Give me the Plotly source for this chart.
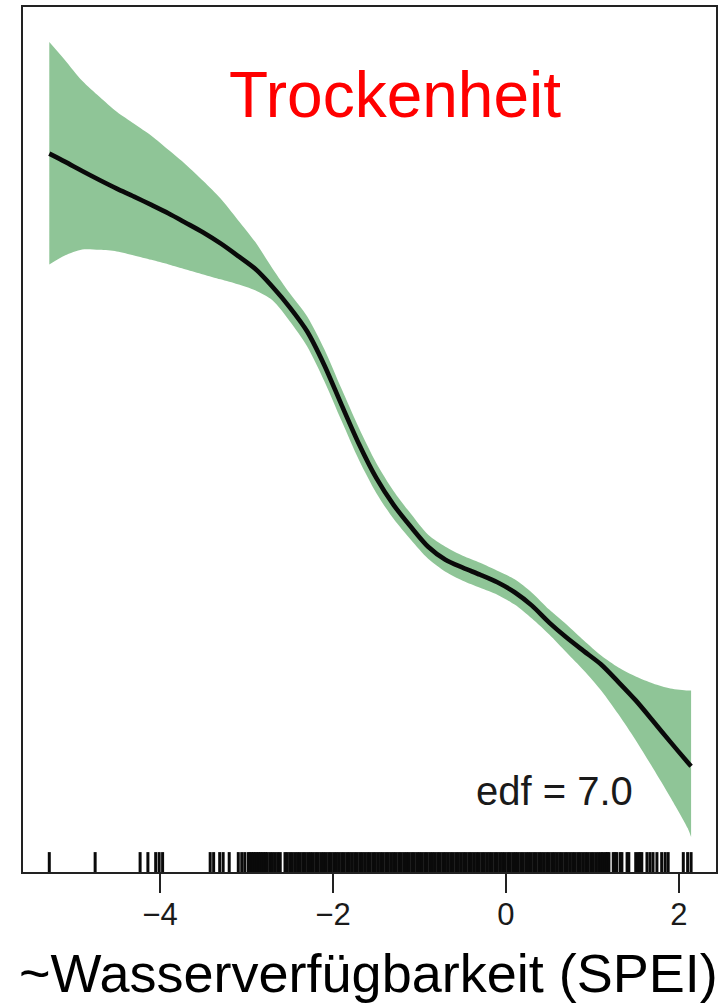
import plotly.graph_objects as go

# SPEI values (x) and smooth estimate with confidence band
spei = [-5.28, -5.1, -4.9, -4.7, -4.5, -4.3, -4.1, -3.9, -3.7, -3.5, -3.3, -3.1, -2.9, -2.7,
        -2.5, -2.3, -2.1, -1.9, -1.7, -1.5, -1.3, -1.1, -0.9, -0.7, -0.5, -0.3, -0.1, 0.1,
        0.3, 0.5, 0.7, 0.9, 1.1, 1.3, 1.5, 1.7, 1.9, 2.1, 2.14]
fit = [2.09, 2.05, 2.003, 1.958, 1.915, 1.875, 1.833, 1.79, 1.743, 1.695, 1.64, 1.578, 1.513,
       1.423, 1.32, 1.2, 1.03, 0.83, 0.635, 0.465, 0.33, 0.22, 0.12, 0.055, 0.015, -0.02,
       -0.058, -0.108, -0.175, -0.26, -0.335, -0.403, -0.47, -0.558, -0.65, -0.753, -0.858,
       -0.96, -0.98]
upper = [2.65, 2.56, 2.455, 2.375, 2.30, 2.24, 2.18, 2.108, 2.035, 1.953, 1.865, 1.758, 1.648,
         1.515, 1.39, 1.275, 1.11, 0.91, 0.715, 0.54, 0.40, 0.285, 0.18, 0.12, 0.075, 0.04,
         0.0, -0.043, -0.11, -0.195, -0.27, -0.35, -0.425, -0.485, -0.53, -0.565, -0.59,
         -0.60, -0.60]
lower = [1.535, 1.58, 1.61, 1.608, 1.60, 1.58, 1.558, 1.535, 1.51, 1.485, 1.46, 1.435, 1.405,
         1.355, 1.25, 1.125, 0.95, 0.75, 0.555, 0.39, 0.26, 0.155, 0.06, -0.005, -0.05, -0.085,
         -0.12, -0.17, -0.24, -0.32, -0.41, -0.50, -0.60, -0.72, -0.85, -0.99, -1.135, -1.29,
         -1.335]

# Rug: observed SPEI values
rug = [-5.28, -4.75, -4.23, -4.14, -4.05, -4.01, -3.97, -3.42, -3.38, -3.31, -3.27, -3.20,
       -3.095, -3.055, -3.02, -2.98, -2.96, -2.94, -2.92, -2.90, -2.88, -2.86, -2.84, -2.82,
       -2.80, -2.78, -2.76, -2.73, -2.70, -2.67, -2.64, -2.61, -2.555, -2.53,
       -2.50, -2.47, -2.44, -2.41, -2.38, -2.35, -2.32, -2.29, -2.26, -2.23, -2.20, -2.17,
       -2.14, -2.11, -2.08, -2.05, -2.02, -1.99, -1.96, -1.93, -1.90, -1.87, -1.84, -1.81,
       -1.78, -1.75, -1.72, -1.69, -1.66, -1.63, -1.60, -1.57, -1.54, -1.51, -1.48, -1.45,
       -1.42, -1.39, -1.36, -1.33, -1.30, -1.27, -1.24, -1.21, -1.18, -1.15, -1.12, -1.09,
       -1.06, -1.03, -1.00, -0.97, -0.94, -0.91, -0.88, -0.85, -0.82, -0.79, -0.76, -0.73,
       -0.70, -0.67, -0.64, -0.61, -0.58, -0.55, -0.52, -0.49, -0.46, -0.43, -0.40, -0.37,
       -0.34, -0.31, -0.28, -0.25, -0.22, -0.19, -0.16, -0.13, -0.10, -0.07, -0.04, -0.01,
       0.02, 0.05, 0.08, 0.11, 0.14, 0.17, 0.20, 0.23, 0.26, 0.29, 0.32, 0.35, 0.38, 0.41,
       0.44, 0.47, 0.50, 0.53, 0.56, 0.59, 0.62, 0.65, 0.68, 0.71, 0.74, 0.77, 0.80, 0.83,
       0.86, 0.89, 0.92, 0.95, 0.98, 1.01, 1.04, 1.07, 1.10, 1.12,
       1.15, 1.17, 1.19, 1.24, 1.26, 1.28, 1.32, 1.34, 1.40, 1.42, 1.50, 1.53, 1.55, 1.57,
       1.63, 1.665, 1.70, 1.745, 1.80, 1.84, 1.875, 2.05, 2.10, 2.14]

tick_vals = [-4, -2, 0, 2]
tick_text = ["\u22124", "\u22122", "0", "2"]

title_text = "Trockenheit"
edf_text = "edf = 7.0"
xlabel_text = "~Wasserverfügbarkeit (SPEI)"

FONT = "Liberation Sans, Arial, sans-serif"
GREEN = "#8fc597"

fig = go.Figure()

# confidence band: upper edge, then lower edge filled up to it
fig.add_trace(go.Scatter(
    x=spei, y=upper, mode="lines",
    line=dict(width=0, color=GREEN, shape="spline", smoothing=0.8),
    hoverinfo="skip", showlegend=False))
fig.add_trace(go.Scatter(
    x=spei, y=lower, mode="lines", fill="tonexty", fillcolor=GREEN,
    line=dict(width=0, color=GREEN, shape="spline", smoothing=0.8),
    hoverinfo="skip", showlegend=False))

# fitted smooth
fig.add_trace(go.Scatter(
    x=spei, y=fit, mode="lines",
    line=dict(color="#0a0a0a", width=4.6, shape="spline", smoothing=0.8),
    showlegend=False))

# rug
shapes = [dict(type="line", xref="x", yref="y domain", x0=v, x1=v, y0=0, y1=0.023,
               line=dict(color="#0a0a0a", width=3)) for v in rug]

fig.update_layout(
    width=723, height=1004,
    margin=dict(l=23, r=7, t=5, b=132),
    paper_bgcolor="white", plot_bgcolor="white",
    shapes=shapes,
    showlegend=False,
    font=dict(family=FONT, color="#1a1a1a"),
    annotations=[
        dict(text=title_text, xref="paper", yref="paper", x=0.537, y=0.898,
             xanchor="center", yanchor="middle", showarrow=False,
             font=dict(size=64, color="#ff0000", family=FONT)),
        dict(text=edf_text, xref="paper", yref="paper", x=0.767, y=0.0934,
             xanchor="center", yanchor="middle", showarrow=False,
             font=dict(size=40, color="#1a1a1a", family=FONT)),
        dict(text=xlabel_text, xref="paper", yref="paper", x=0.498, y=-0.1165,
             xanchor="center", yanchor="middle", showarrow=False,
             font=dict(size=54, color="#000000", family=FONT)),
    ],
)

fig.update_xaxes(
    range=[-5.584, 2.428], tickvals=tick_vals, ticktext=tick_text,
    ticks="outside", ticklen=19, tickwidth=2, tickcolor="#222222",
    tickfont=dict(size=31, color="#1a1a1a", family=FONT),
    ticklabelstandoff=-5,
    showgrid=False, zeroline=False,
    showline=True, mirror=True, linecolor="#222222", linewidth=2)
fig.update_yaxes(
    range=[-1.51, 2.825], showticklabels=False, ticks="",
    showgrid=False, zeroline=False,
    showline=True, mirror=True, linecolor="#222222", linewidth=2)

fig.write_html("out.html", config={"displayModeBar": False},
               post_script="document.body.style.margin='0';document.body.style.overflow='hidden';")
